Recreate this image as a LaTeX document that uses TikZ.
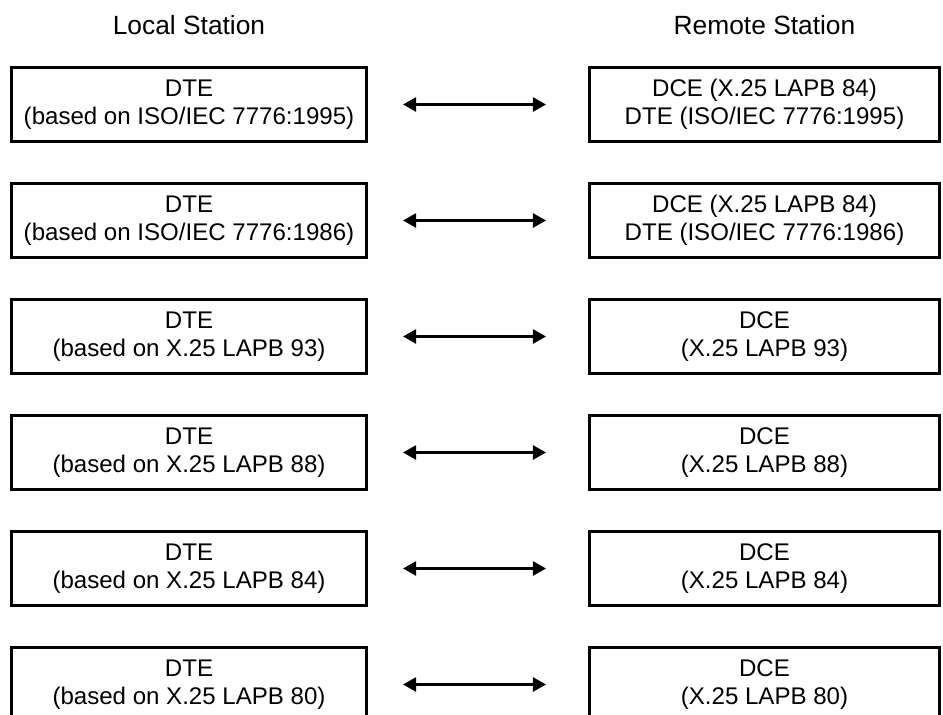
\documentclass[tikz,border=0pt]{standalone}
\usepackage{fontspec}
\setmainfont{Liberation Sans}
\usetikzlibrary{arrows.meta}

\begin{document}
\begin{tikzpicture}[x = 0.02cm, y = -0.02cm,
	station/.style = {draw, line width = 1.5pt, minimum height = 1.49cm, inner sep = 0pt, align = center, font = \fontsize{13.7}{15.9}\selectfont},
	local/.style = {station, minimum width = 7.11cm},
	remote/.style = {station, minimum width = 7.01cm},
	heading/.style = {font = \fontsize{15}{17}\selectfont},
	link/.style = {<->, > = {Triangle[length = 0.26cm, width = 0.28cm]}, line width = 1.4pt, shorten <= 0.7cm, shorten >= 0.84cm}]

	% Definitions
	
	\def\L{189}	% Centre of local column
	\def\R{764.5}	% Centre of remote column
	\def\D{116}	% Vertical distance between rows
	
	\useasboundingbox (0, 0) rectangle (943, 715);
	
	% Headings
	
	\node [heading] (localhead) at (\L, 25) {Local Station};
	\node [heading] (remotehead) at (\R, 25) {Remote Station};
	
	% Local stations
	
	\node [local] (l1) at (\L, 104.5) {DTE\\(based on ISO/IEC 7776:1995)};
	\node [local] (l2) at (\L, 104.5 + \D) {DTE\\(based on ISO/IEC 7776:1986)};
	\node [local] (l3) at (\L, 104.5 + 2 * \D) {DTE\\(based on X.25 LAPB 93)};
	\node [local] (l4) at (\L, 104.5 + 3 * \D) {DTE\\(based on X.25 LAPB 88)};
	\node [local] (l5) at (\L, 104.5 + 4 * \D) {DTE\\(based on X.25 LAPB 84)};
	\node [local] (l6) at (\L, 104.5 + 5 * \D) {DTE\\(based on X.25 LAPB 80)};
	
	% Remote stations
	
	\node [remote] (r1) at (\R, 104.5) {DCE (X.25 LAPB 84)\\DTE (ISO/IEC 7776:1995)};
	\node [remote] (r2) at (\R, 104.5 + \D) {DCE (X.25 LAPB 84)\\DTE (ISO/IEC 7776:1986)};
	\node [remote] (r3) at (\R, 104.5 + 2 * \D) {DCE\\(X.25 LAPB 93)};
	\node [remote] (r4) at (\R, 104.5 + 3 * \D) {DCE\\(X.25 LAPB 88)};
	\node [remote] (r5) at (\R, 104.5 + 4 * \D) {DCE\\(X.25 LAPB 84)};
	\node [remote] (r6) at (\R, 104.5 + 5 * \D) {DCE\\(X.25 LAPB 80)};
	
	% Links
	
	\draw [link] (l1) -- (r1);
	\draw [link] (l2) -- (r2);
	\draw [link] (l3) -- (r3);
	\draw [link] (l4) -- (r4);
	\draw [link] (l5) -- (r5);
	\draw [link] (l6) -- (r6);

\end{tikzpicture}
\end{document}
